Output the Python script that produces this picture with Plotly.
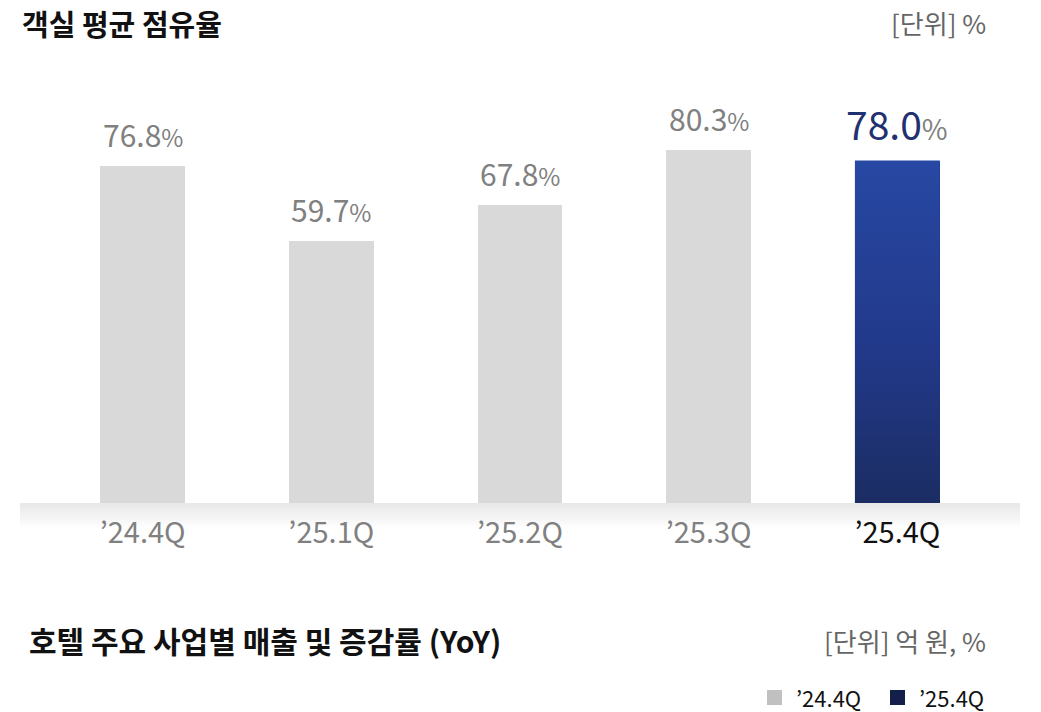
import plotly.graph_objects as go

categories = ["’24.4Q", "’25.1Q", "’25.2Q", "’25.3Q", "’25.4Q"]
occupancy = [76.8, 59.7, 67.8, 80.3, 78.0]
legend_labels = ["’24.4Q", "’25.4Q"]

FONT = "Noto Sans CJK KR"
GRAY_BAR = "#d9d9d9"
NAVY_TOP = "#2748a3"
NAVY_BOT = "#1b2d63"
LABEL_GRAY = "#808080"

W, H = 1041, 712
ML, MR, MT = 20, 21, 64
MB = H - 503
PW, PH = W - ML - MR, H - MT - MB
BAR_W = 0.45

def px_x(px):
    return (px - ML) / PW

def px_y(py):
    return (H - MB - py) / PH

xs = list(range(len(categories)))
fig = go.Figure()

fig.add_trace(go.Bar(
    x=xs, y=occupancy, width=BAR_W,
    marker=dict(color=[GRAY_BAR] * (len(xs) - 1) + [NAVY_BOT], line=dict(width=0)),
    hoverinfo="skip", showlegend=False,
))

# gradient overlay for the highlighted (latest) bar
li = len(xs) - 1
lv = occupancy[li]
fig.add_trace(go.Scatter(
    x=[li - BAR_W / 2, li + BAR_W / 2, li + BAR_W / 2, li - BAR_W / 2, li - BAR_W / 2],
    y=[0, 0, lv, lv, 0],
    fill="toself", mode="lines", line=dict(width=0),
    fillgradient=dict(type="vertical", start=0, stop=lv,
                      colorscale=[[0, NAVY_BOT], [0.45, "#22398a"], [1, NAVY_TOP]]),
    hoverinfo="skip", showlegend=False,
))

annotations = []
for i, (c, v) in enumerate(zip(categories, occupancy)):
    last = i == li
    if last:
        txt = f"<span style='color:#1f3170;font-size:39px'>{v:.1f}</span><span style='font-size:28px'>%</span>"
        shift = 38
    else:
        txt = f"{v:.1f}<span style='font-size:24px'>%</span>"
        shift = 32
    annotations.append(dict(
        x=i, y=v, xref="x", yref="y", text=txt, showarrow=False,
        yanchor="middle", yshift=shift,
        font=dict(family=FONT, size=30, color=LABEL_GRAY),
    ))

# titles and unit labels
annotations += [
    dict(x=px_x(20), y=px_y(23), xref="paper", yref="paper", text="<b>객실 평균 점유율</b>",
         showarrow=False, xanchor="left", yanchor="middle",
         font=dict(family=FONT, size=29, color="#111111")),
    dict(x=px_x(988), y=px_y(23), xref="paper", yref="paper", text="[단위] %",
         showarrow=False, xanchor="right", yanchor="middle",
         font=dict(family=FONT, size=26, color="#666666")),
    dict(x=px_x(27), y=px_y(640), xref="paper", yref="paper",
         text="<b>호텔 주요 사업별 매출 및 증감률 (YoY)</b>",
         showarrow=False, xanchor="left", yanchor="middle",
         font=dict(family=FONT, size=30, color="#111111")),
    dict(x=px_x(988), y=px_y(640), xref="paper", yref="paper", text="[단위] 억 원, %",
         showarrow=False, xanchor="right", yanchor="middle",
         font=dict(family=FONT, size=26, color="#666666")),
    dict(x=px_x(794), y=px_y(697), xref="paper", yref="paper", text=legend_labels[0],
         showarrow=False, xanchor="left", yanchor="middle",
         font=dict(family=FONT, size=22, color="#111111")),
    dict(x=px_x(917), y=px_y(697), xref="paper", yref="paper", text=legend_labels[1],
         showarrow=False, xanchor="left", yanchor="middle",
         font=dict(family=FONT, size=22, color="#111111")),
]

shapes = []
# soft shadow band under the baseline
n = 26
for k in range(n):
    t = k / (n - 1)
    g = int(0xe8 + (0xff - 0xe8) * t)
    shapes.append(dict(type="rect", xref="paper", yref="paper",
                       x0=0, x1=1, y0=px_y(503 + k), y1=px_y(503 + k + 1),
                       fillcolor=f"rgb({g},{g},{g})", line=dict(width=0), layer="below"))
# legend swatches
shapes.append(dict(type="rect", xref="paper", yref="paper",
                   x0=px_x(767), x1=px_x(782), y0=px_y(705), y1=px_y(690),
                   fillcolor="#c0c0c0", line=dict(width=0)))
shapes.append(dict(type="rect", xref="paper", yref="paper",
                   x0=px_x(890), x1=px_x(905), y0=px_y(705), y1=px_y(690),
                   fillcolor="#14204a", line=dict(width=0)))

ticktext = [f"<span style='color:{LABEL_GRAY}'>{c}</span>" for c in categories[:-1]] + \
           [f"<span style='color:#111111'>{categories[-1]}</span>"]

fig.update_layout(
    width=W, height=H,
    margin=dict(l=ML, r=MR, t=MT, b=MB),
    paper_bgcolor="white", plot_bgcolor="rgba(0,0,0,0)",
    font=dict(family=FONT),
    hovermode=False,
    xaxis=dict(range=[-0.65, 4.65], tickmode="array", tickvals=xs, ticktext=ticktext,
               showgrid=False, zeroline=False, showline=False, ticks="",
               ticklabelstandoff=10,
               tickfont=dict(family=FONT, size=29, color=LABEL_GRAY), fixedrange=True),
    yaxis=dict(range=[0, 100], visible=False, fixedrange=True),
    annotations=annotations, shapes=shapes,
    bargap=0,
)

fig.write_html("out.html",
               config={"displayModeBar": False, "staticPlot": True},
               post_script="document.body.style.margin='0';document.body.style.overflow='hidden';")
